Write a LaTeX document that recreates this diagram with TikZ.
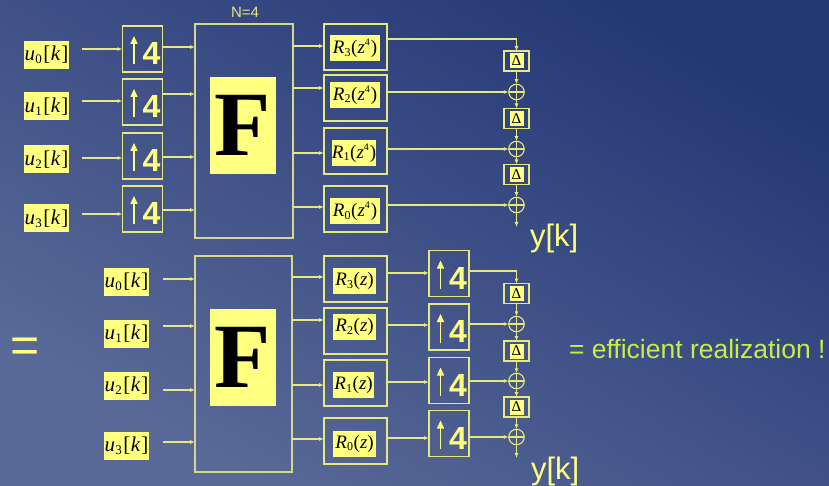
\documentclass[tikz,border=0pt]{standalone}
\usepackage{fontspec}
\setmainfont{Liberation Serif}
\setsansfont{Liberation Sans}
\usetikzlibrary{arrows.meta,calc}
\definecolor{bgA}{RGB}{90,106,152}
\definecolor{bgB}{RGB}{36,56,118}
\definecolor{lnc}{RGB}{232,232,128}
\definecolor{fcol}{RGB}{215,215,140}
\definecolor{yel}{RGB}{255,255,128}
\definecolor{grn}{RGB}{200,238,70}
\newcommand{\ulab}[1]{\textit{u}\kern0.3pt\raisebox{-0.3ex}{\fontsize{13}{13}\selectfont #1}\kern1.5pt[\kern0.5pt\textit{k}\kern1pt]}
\newcommand{\rlabz}[1]{\textit{R}\kern0.3pt\raisebox{-0.3ex}{\fontsize{12}{12}\selectfont #1}\kern0.5pt(\textit{z}\raisebox{0.9ex}{\fontsize{10}{10}\selectfont 4}\kern1pt)}
\newcommand{\rlab}[1]{\textit{R}\kern0.3pt\raisebox{-0.3ex}{\fontsize{12}{12}\selectfont #1}\kern0.5pt(\textit{z})}
\tikzset{
  every node/.style={inner sep=0pt, outer sep=0pt},
  wire/.style={draw=lnc, line width=1.1pt},
  arr/.style={wire, -{Latex[length=5pt,width=4pt]}},
  frame/.style={draw=lnc, line width=1.1pt},
  ulabel/.style={fill=yel, text=black, font=\fontsize{21}{21}\selectfont, minimum width=45pt, minimum height=28pt},
  rlabel/.style={fill=yel, text=black, font=\fontsize{19}{19}\selectfont, minimum height=26pt},
  rbox/.style={frame, minimum width=63pt, minimum height=46pt},
  fbox/.style={frame, draw=fcol},
  finner/.style={fill=yel, text=black, minimum width=66pt, minimum height=97pt, font=\bfseries\fontsize{92}{92}\selectfont},
  dbox/.style={frame, minimum width=25pt, minimum height=20pt},
  dinner/.style={fill=yel, text=black, minimum width=14pt, minimum height=15pt, font=\fontsize{15}{15}\selectfont},
  adder/.style={circle, frame, minimum size=15.5pt},
  bigtext/.style={text=yel, font=\sffamily\fontsize{31}{31}\selectfont},
  upfour/.pic={
    \node[frame, minimum width=40pt, minimum height=46pt] (-b) at (0,0) {};
    \draw[draw=yel, line width=1.5pt, -{Triangle[length=8pt,width=7pt]}] (-8.5,15.5) -- (-8.5,-13);
    \node[text=yel, font=\sffamily\bfseries\fontsize{32}{32}\selectfont] at (9,4.5) {4};
  }
}
\begin{document}
\begin{tikzpicture}[x=1pt,y=-1pt]
\shade[shading=axis, top color=bgB, bottom color=bgA, shading angle=-30] (0,0) rectangle (829,486);
\useasboundingbox (0,0) rectangle (829,486);

% ================= TOP =================
\node[ulabel] (tu0) at (46.5,55) {\ulab{0}};
\node[ulabel] (tu1) at (46.5,106.5) {\ulab{1}};
\node[ulabel] (tu2) at (46.5,159.5) {\ulab{2}};
\node[ulabel] (tu3) at (46.5,218.5) {\ulab{3}};
\coordinate (ta0) at (82,49);
\coordinate (ta1) at (82,101);
\coordinate (ta2) at (82,158);
\coordinate (ta3) at (82,214);
\pic (tq0) at (142.5,49) {upfour};
\pic (tq1) at (142.5,102) {upfour};
\pic (tq2) at (142.5,156) {upfour};
\pic (tq3) at (142.5,209) {upfour};
\draw[arr] (ta0) -- (ta0 -| tq0-b.west);
\draw[arr] (ta1) -- (ta1 -| tq1-b.west);
\draw[arr] (ta2) -- (ta2 -| tq2-b.west);
\draw[arr] (ta3) -- (ta3 -| tq3-b.west);

\node[fbox, minimum width=98pt, minimum height=214pt] (tF) at (244,131) {};
\node[finner] (tFi) at (243,125.5) {F};
\node[text=lnc, font=\sffamily\fontsize{15}{15}\selectfont, anchor=base] (tN) at (245,18) {N=4};

\draw[arr] (tq0-b.east |- 0,47) -- (tF.west |- 0,47);
\draw[arr] (tq1-b.east |- 0,94) -- (tF.west |- 0,94);
\draw[arr] (tq2-b.east |- 0,157) -- (tF.west |- 0,157);
\draw[arr] (tq3-b.east |- 0,210) -- (tF.west |- 0,210);

\node[rbox] (tR3) at (355.5,47) {};
\node[rbox] (tR2) at (355.5,98) {};
\node[rbox] (tR1) at (355.5,151) {};
\node[rbox] (tR0) at (355.5,209) {};
\node[rlabel, minimum width=50pt] (tL3) at (355,48.5) {\rlabz{3}};
\node[rlabel, minimum width=50pt] (tL2) at (355,95) {\rlabz{2}};
\node[rlabel, minimum width=44pt] (tL1) at (354,153) {\rlabz{1}};
\node[rlabel, minimum width=50pt] (tL0) at (355,211.5) {\rlabz{0}};
\draw[arr] (tF.east |- 0,46) -- (tR3.west |- 0,46);
\draw[arr] (tF.east |- 0,88) -- (tR2.west |- 0,88);
\draw[arr] (tF.east |- 0,153) -- (tR1.west |- 0,153);
\draw[arr] (tF.east |- 0,207) -- (tR0.west |- 0,207);

\node[dbox] (tD1) at (516.5,61) {};
\node[dinner] at (tD1) {Δ};
\node[dbox] (tD2) at (516.5,118.5) {};
\node[dinner] at (tD2) {Δ};
\node[dbox] (tD3) at (516.5,174.5) {};
\node[dinner] at (tD3) {Δ};
\node[adder] (tS1) at (516.5,92) {};
\node[adder] (tS2) at (516.5,149) {};
\node[adder] (tS3) at (516.5,205) {};
\foreach \s in {tS1,tS2,tS3}
  \draw[wire, line width=1.4pt] (\s.north) -- (\s.south) (\s.west) -- (\s.east);
\coordinate (tout) at (516.5,227);

\draw[arr] (tR3.east |- 0,39) -- (tD1.north |- 0,39) -- (tD1.north);
\draw[arr] (tR2.east |- tS1) -- (tS1.west);
\draw[arr] (tR1.east |- tS2) -- (tS2.west);
\draw[arr] (tR0.east |- tS3) -- (tS3.west);
\draw[arr] (tD1.south) -- (tS1.north);
\draw[arr] (tS1.south) -- (tD2.north);
\draw[arr] (tD2.south) -- (tS2.north);
\draw[arr] (tS2.south) -- (tD3.north);
\draw[arr] (tD3.south) -- (tS3.north);
\draw[arr] (tS3.south) -- (tout);
\node[bigtext, anchor=base west] (ty) at (530,247) {y[k]};

% ================= BOTTOM =================
\node[ulabel] (bu0) at (126.5,282) {\ulab{0}};
\node[ulabel] (bu1) at (126.5,333.5) {\ulab{1}};
\node[ulabel] (bu2) at (126.5,385.5) {\ulab{2}};
\node[ulabel] (bu3) at (126.5,446) {\ulab{3}};
\coordinate (ba0) at (163,279);
\coordinate (ba1) at (163,326);
\coordinate (ba2) at (163,390);
\coordinate (ba3) at (163,442);

\node[fbox, minimum width=97pt, minimum height=216pt] (bF) at (243.5,364) {};
\node[finner] (bFi) at (243,357.5) {F};
\draw[arr] (ba0) -- (ba0 -| bF.west);
\draw[arr] (ba1) -- (ba1 -| bF.west);
\draw[arr] (ba2) -- (ba2 -| bF.west);
\draw[arr] (ba3) -- (ba3 -| bF.west);

\node[rbox] (bR3) at (355.5,279) {};
\node[rbox] (bR2) at (355.5,331) {};
\node[rbox] (bR1) at (355.5,383) {};
\node[rbox] (bR0) at (355.5,441) {};
\node[rlabel, minimum width=43pt] (bL3) at (354.5,281) {\rlab{3}};
\node[rlabel, minimum width=43pt] (bL2) at (354.5,327) {\rlab{2}};
\node[rlabel, minimum width=41pt] (bL1) at (353.5,385) {\rlab{1}};
\node[rlabel, minimum width=43pt] (bL0) at (354.5,443.5) {\rlab{0}};
\draw[arr] (bF.east |- 0,277) -- (bR3.west |- 0,277);
\draw[arr] (bF.east |- 0,320) -- (bR2.west |- 0,320);
\draw[arr] (bF.east |- 0,385) -- (bR1.west |- 0,385);
\draw[arr] (bF.east |- 0,439) -- (bR0.west |- 0,439);

\pic (bq0) at (449,273.5) {upfour};
\pic (bq1) at (449,327) {upfour};
\pic (bq2) at (449,380.5) {upfour};
\pic (bq3) at (449,433.5) {upfour};
\draw[arr] (bR3.east |- 0,273) -- (bq0-b.west |- 0,273);
\draw[arr] (bR2.east |- 0,325) -- (bq1-b.west |- 0,325);
\draw[arr] (bR1.east |- 0,382) -- (bq2-b.west |- 0,382);
\draw[arr] (bR0.east |- 0,438) -- (bq3-b.west |- 0,438);

\node[dbox] (bD1) at (516.5,293.5) {};
\node[dinner] at (bD1) {Δ};
\node[dbox] (bD2) at (516.5,351) {};
\node[dinner] at (bD2) {Δ};
\node[dbox] (bD3) at (516.5,407) {};
\node[dinner] at (bD3) {Δ};
\node[adder] (bS1) at (516.5,324) {};
\node[adder] (bS2) at (516.5,381) {};
\node[adder] (bS3) at (516.5,437) {};
\foreach \s in {bS1,bS2,bS3}
  \draw[wire, line width=1.4pt] (\s.north) -- (\s.south) (\s.west) -- (\s.east);
\coordinate (bout) at (516.5,458);

\draw[arr] (bq0-b.east |- 0,271) -- (bD1.north |- 0,271) -- (bD1.north);
\draw[arr] (bq1-b.east |- bS1) -- (bS1.west);
\draw[arr] (bq2-b.east |- bS2) -- (bS2.west);
\draw[arr] (bq3-b.east |- bS3) -- (bS3.west);
\draw[arr] (bD1.south) -- (bS1.north);
\draw[arr] (bS1.south) -- (bD2.north);
\draw[arr] (bD2.south) -- (bS2.north);
\draw[arr] (bS2.south) -- (bD3.north);
\draw[arr] (bD3.south) -- (bS3.north);
\draw[arr] (bS3.south) -- (bout);
\node[bigtext, anchor=base west] (by) at (531,479) {y[k]};

% ================= TEXT =================
\node[text=yel, font=\sffamily\fontsize{50}{50}\selectfont] (eq) at (25.5,350.5) {=};
\node[text=grn, font=\sffamily\fontsize{26.5}{26.5}\selectfont, anchor=base west] (eff) at (569,358) {= efficient realization !};
\end{tikzpicture}
\end{document}
